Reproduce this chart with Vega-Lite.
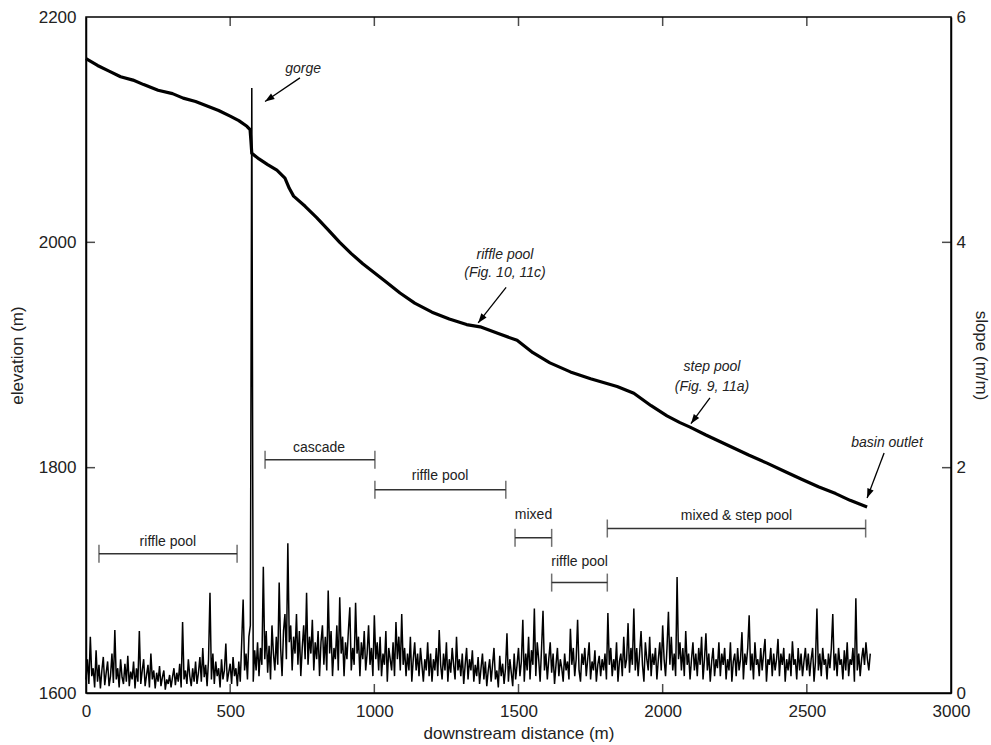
{
  "$schema": "https://vega.github.io/schema/vega-lite/v6.json",
  "width": 865,
  "height": 676,
  "autosize": "none",
  "padding": {"left": 86, "top": 17, "right": 40, "bottom": 52},
  "background": "white",
  "config": {
    "font": "Liberation Sans",
    "view": {"stroke": "#000", "strokeWidth": 1.5},
    "axis": {
      "grid": false,
      "ticks": false,
      "domainColor": "#000",
      "labelColor": "#222",
      "titleColor": "#222",
      "labelFont": "Liberation Sans",
      "titleFont": "Liberation Sans",
      "labelFontSize": 17,
      "titleFontSize": 17,
      "titleFontWeight": "normal",
      "domainWidth": 1.5,
      "labelPadding": 10,
      "format": "d"
    }
  },
  "datasets": {
    "slope": [
{"d":0,"s":0.12},{"d":5,"s":0.3},{"d":10,"s":0.08},{"d":15,"s":0.5},{"d":20,"s":0.15},{"d":25,"s":0.22},{"d":30,"s":0.05},{"d":35,"s":0.38},{"d":40,"s":0.1},{"d":45,"s":0.25},{"d":50,"s":0.04},{"d":55,"s":0.2},{"d":60,"s":0.32},{"d":65,"s":0.07},{"d":70,"s":0.18},{"d":75,"s":0.28},{"d":80,"s":0.06},{"d":85,"s":0.15},{"d":90,"s":0.35},{"d":95,"s":0.09},
{"d":100,"s":0.56},{"d":105,"s":0.12},{"d":110,"s":0.22},{"d":115,"s":0.05},{"d":120,"s":0.3},{"d":125,"s":0.14},{"d":130,"s":0.08},{"d":135,"s":0.26},{"d":140,"s":0.1},{"d":145,"s":0.33},{"d":150,"s":0.06},{"d":155,"s":0.19},{"d":160,"s":0.12},{"d":165,"s":0.28},{"d":170,"s":0.04},{"d":175,"s":0.22},{"d":180,"s":0.1},{"d":185,"s":0.55},{"d":190,"s":0.08},{"d":195,"s":0.2},
{"d":200,"s":0.3},{"d":205,"s":0.06},{"d":210,"s":0.16},{"d":215,"s":0.25},{"d":220,"s":0.05},{"d":225,"s":0.35},{"d":230,"s":0.12},{"d":235,"s":0.2},{"d":240,"s":0.04},{"d":245,"s":0.18},{"d":250,"s":0.1},{"d":255,"s":0.24},{"d":260,"s":0.06},{"d":265,"s":0.14},{"d":270,"s":0.2},{"d":275,"s":0.03},{"d":280,"s":0.12},{"d":285,"s":0.08},{"d":290,"s":0.16},{"d":295,"s":0.05},
{"d":300,"s":0.14},{"d":305,"s":0.22},{"d":310,"s":0.07},{"d":315,"s":0.18},{"d":320,"s":0.1},{"d":325,"s":0.26},{"d":330,"s":0.05},{"d":335,"s":0.63},{"d":340,"s":0.12},{"d":345,"s":0.2},{"d":350,"s":0.08},{"d":355,"s":0.3},{"d":360,"s":0.15},{"d":365,"s":0.06},{"d":370,"s":0.22},{"d":375,"s":0.1},{"d":380,"s":0.28},{"d":385,"s":0.08},{"d":390,"s":0.18},{"d":395,"s":0.32},
{"d":400,"s":0.1},{"d":405,"s":0.4},{"d":410,"s":0.14},{"d":415,"s":0.25},{"d":420,"s":0.06},{"d":425,"s":0.3},{"d":430,"s":0.89},{"d":435,"s":0.12},{"d":440,"s":0.35},{"d":445,"s":0.08},{"d":450,"s":0.28},{"d":455,"s":0.15},{"d":460,"s":0.22},{"d":465,"s":0.05},{"d":470,"s":0.3},{"d":475,"s":0.12},{"d":480,"s":0.2},{"d":485,"s":0.44},{"d":490,"s":0.1},{"d":495,"s":0.18},
{"d":500,"s":0.26},{"d":505,"s":0.08},{"d":510,"s":0.32},{"d":515,"s":0.15},{"d":520,"s":0.22},{"d":525,"s":0.06},{"d":530,"s":0.28},{"d":535,"s":0.1},{"d":540,"s":0.45},{"d":545,"s":0.83},{"d":550,"s":0.2},{"d":555,"s":0.35},{"d":560,"s":0.12},{"d":565,"s":0.5},{"d":570,"s":0.6},{"d":575,"s":5.37},{"d":580,"s":0.1},{"d":585,"s":0.38},{"d":590,"s":0.2},{"d":595,"s":0.45},
{"d":600,"s":0.15},{"d":605,"s":0.4},{"d":610,"s":0.25},{"d":615,"s":1.12},{"d":620,"s":0.3},{"d":625,"s":0.55},{"d":630,"s":0.18},{"d":635,"s":0.42},{"d":640,"s":0.12},{"d":645,"s":0.6},{"d":650,"s":0.35},{"d":655,"s":0.2},{"d":660,"s":0.5},{"d":665,"s":0.25},{"d":670,"s":0.98},{"d":675,"s":0.4},{"d":680,"s":0.15},{"d":685,"s":0.55},{"d":690,"s":0.7},{"d":695,"s":0.3},
{"d":700,"s":1.33},{"d":705,"s":0.45},{"d":710,"s":0.6},{"d":715,"s":0.2},{"d":720,"s":0.5},{"d":725,"s":0.35},{"d":730,"s":0.7},{"d":735,"s":0.25},{"d":740,"s":0.55},{"d":745,"s":0.15},{"d":750,"s":0.4},{"d":755,"s":0.6},{"d":760,"s":0.3},{"d":765,"s":0.89},{"d":770,"s":0.25},{"d":775,"s":0.5},{"d":780,"s":0.35},{"d":785,"s":0.65},{"d":790,"s":0.2},{"d":795,"s":0.45},
{"d":800,"s":0.3},{"d":805,"s":0.55},{"d":810,"s":0.15},{"d":815,"s":0.45},{"d":820,"s":0.6},{"d":825,"s":0.25},{"d":830,"s":0.5},{"d":835,"s":0.2},{"d":840,"s":0.91},{"d":845,"s":0.35},{"d":850,"s":0.55},{"d":855,"s":0.15},{"d":860,"s":0.4},{"d":865,"s":0.3},{"d":870,"s":0.6},{"d":875,"s":0.2},{"d":880,"s":0.85},{"d":885,"s":0.35},{"d":890,"s":0.5},{"d":895,"s":0.15},
{"d":900,"s":0.45},{"d":905,"s":0.3},{"d":910,"s":0.55},{"d":915,"s":0.76},{"d":920,"s":0.2},{"d":925,"s":0.4},{"d":930,"s":0.25},{"d":935,"s":0.8},{"d":940,"s":0.35},{"d":945,"s":0.5},{"d":950,"s":0.15},{"d":955,"s":0.45},{"d":960,"s":0.3},{"d":965,"s":0.55},{"d":970,"s":0.2},{"d":975,"s":0.35},{"d":980,"s":0.6},{"d":985,"s":0.25},{"d":990,"s":0.4},{"d":995,"s":0.15},
{"d":1000,"s":0.69},{"d":1005,"s":0.3},{"d":1010,"s":0.45},{"d":1015,"s":0.2},{"d":1020,"s":0.5},{"d":1025,"s":0.15},{"d":1030,"s":0.35},{"d":1035,"s":0.25},{"d":1040,"s":0.55},{"d":1045,"s":0.1},{"d":1050,"s":0.4},{"d":1055,"s":0.3},{"d":1060,"s":0.2},{"d":1065,"s":0.45},{"d":1070,"s":0.15},{"d":1075,"s":0.63},{"d":1080,"s":0.3},{"d":1085,"s":0.5},{"d":1090,"s":0.2},{"d":1095,"s":0.7},
{"d":1100,"s":0.25},{"d":1105,"s":0.4},{"d":1110,"s":0.15},{"d":1115,"s":0.35},{"d":1120,"s":0.2},{"d":1125,"s":0.5},{"d":1130,"s":0.1},{"d":1135,"s":0.3},{"d":1140,"s":0.45},{"d":1145,"s":0.2},{"d":1150,"s":0.35},{"d":1155,"s":0.15},{"d":1160,"s":0.4},{"d":1165,"s":0.25},{"d":1170,"s":0.1},{"d":1175,"s":0.3},{"d":1180,"s":0.2},{"d":1185,"s":0.45},{"d":1190,"s":0.15},{"d":1195,"s":0.35},
{"d":1200,"s":0.1},{"d":1205,"s":0.3},{"d":1210,"s":0.2},{"d":1215,"s":0.4},{"d":1220,"s":0.15},{"d":1225,"s":0.56},{"d":1230,"s":0.25},{"d":1235,"s":0.12},{"d":1240,"s":0.35},{"d":1245,"s":0.2},{"d":1250,"s":0.45},{"d":1255,"s":0.1},{"d":1260,"s":0.3},{"d":1265,"s":0.18},{"d":1270,"s":0.4},{"d":1275,"s":0.25},{"d":1280,"s":0.12},{"d":1285,"s":0.5},{"d":1290,"s":0.2},{"d":1295,"s":0.3},
{"d":1300,"s":0.15},{"d":1305,"s":0.35},{"d":1310,"s":0.08},{"d":1315,"s":0.25},{"d":1320,"s":0.4},{"d":1325,"s":0.12},{"d":1330,"s":0.3},{"d":1335,"s":0.2},{"d":1340,"s":0.38},{"d":1345,"s":0.1},{"d":1350,"s":0.25},{"d":1355,"s":0.15},{"d":1360,"s":0.32},{"d":1365,"s":0.08},{"d":1370,"s":0.22},{"d":1375,"s":0.35},{"d":1380,"s":0.12},{"d":1385,"s":0.28},{"d":1390,"s":0.06},{"d":1395,"s":0.2},
{"d":1400,"s":0.3},{"d":1405,"s":0.1},{"d":1410,"s":0.25},{"d":1415,"s":0.4},{"d":1420,"s":0.12},{"d":1425,"s":0.2},{"d":1430,"s":0.05},{"d":1435,"s":0.33},{"d":1440,"s":0.15},{"d":1445,"s":0.26},{"d":1450,"s":0.08},{"d":1455,"s":0.22},{"d":1460,"s":0.53},{"d":1465,"s":0.1},{"d":1470,"s":0.3},{"d":1475,"s":0.18},{"d":1480,"s":0.06},{"d":1485,"s":0.35},{"d":1490,"s":0.12},{"d":1495,"s":0.25},
{"d":1500,"s":0.4},{"d":1505,"s":0.15},{"d":1510,"s":0.28},{"d":1515,"s":0.65},{"d":1520,"s":0.1},{"d":1525,"s":0.35},{"d":1530,"s":0.2},{"d":1535,"s":0.5},{"d":1540,"s":0.12},{"d":1545,"s":0.38},{"d":1550,"s":0.25},{"d":1555,"s":0.75},{"d":1560,"s":0.15},{"d":1565,"s":0.45},{"d":1570,"s":0.3},{"d":1575,"s":0.1},{"d":1580,"s":0.4},{"d":1585,"s":0.73},{"d":1590,"s":0.2},{"d":1595,"s":0.35},
{"d":1600,"s":0.12},{"d":1605,"s":0.3},{"d":1610,"s":0.45},{"d":1615,"s":0.18},{"d":1620,"s":0.35},{"d":1625,"s":0.08},{"d":1630,"s":0.25},{"d":1635,"s":0.4},{"d":1640,"s":0.15},{"d":1645,"s":0.3},{"d":1650,"s":0.22},{"d":1655,"s":0.1},{"d":1660,"s":0.35},{"d":1665,"s":0.2},{"d":1670,"s":0.28},{"d":1675,"s":0.12},{"d":1680,"s":0.57},{"d":1685,"s":0.25},{"d":1690,"s":0.4},{"d":1695,"s":0.15},
{"d":1700,"s":0.3},{"d":1705,"s":0.65},{"d":1710,"s":0.2},{"d":1715,"s":0.1},{"d":1720,"s":0.35},{"d":1725,"s":0.25},{"d":1730,"s":0.4},{"d":1735,"s":0.15},{"d":1740,"s":0.3},{"d":1745,"s":0.45},{"d":1750,"s":0.12},{"d":1755,"s":0.28},{"d":1760,"s":0.2},{"d":1765,"s":0.38},{"d":1770,"s":0.1},{"d":1775,"s":0.25},{"d":1780,"s":0.33},{"d":1785,"s":0.15},{"d":1790,"s":0.3},{"d":1795,"s":0.2},
{"d":1800,"s":0.35},{"d":1805,"s":0.12},{"d":1810,"s":0.71},{"d":1815,"s":0.25},{"d":1820,"s":0.4},{"d":1825,"s":0.15},{"d":1830,"s":0.3},{"d":1835,"s":0.2},{"d":1840,"s":0.45},{"d":1845,"s":0.1},{"d":1850,"s":0.28},{"d":1855,"s":0.35},{"d":1860,"s":0.15},{"d":1865,"s":0.5},{"d":1870,"s":0.22},{"d":1875,"s":0.3},{"d":1880,"s":0.62},{"d":1885,"s":0.18},{"d":1890,"s":0.4},{"d":1895,"s":0.25},
{"d":1900,"s":0.75},{"d":1905,"s":0.2},{"d":1910,"s":0.4},{"d":1915,"s":0.15},{"d":1920,"s":0.35},{"d":1925,"s":0.55},{"d":1930,"s":0.25},{"d":1935,"s":0.1},{"d":1940,"s":0.45},{"d":1945,"s":0.3},{"d":1950,"s":0.2},{"d":1955,"s":0.5},{"d":1960,"s":0.15},{"d":1965,"s":0.35},{"d":1970,"s":0.25},{"d":1975,"s":0.4},{"d":1980,"s":0.12},{"d":1985,"s":0.3},{"d":1990,"s":0.45},{"d":1995,"s":0.2},
{"d":2000,"s":0.6},{"d":2005,"s":0.3},{"d":2010,"s":0.15},{"d":2015,"s":0.4},{"d":2020,"s":0.72},{"d":2025,"s":0.25},{"d":2030,"s":0.5},{"d":2035,"s":0.2},{"d":2040,"s":0.35},{"d":2045,"s":0.15},{"d":2050,"s":1.03},{"d":2055,"s":0.3},{"d":2060,"s":0.45},{"d":2065,"s":0.2},{"d":2070,"s":0.4},{"d":2075,"s":0.15},{"d":2080,"s":0.55},{"d":2085,"s":0.25},{"d":2090,"s":0.35},{"d":2095,"s":0.12},
{"d":2100,"s":0.3},{"d":2105,"s":0.45},{"d":2110,"s":0.2},{"d":2115,"s":0.35},{"d":2120,"s":0.15},{"d":2125,"s":0.4},{"d":2130,"s":0.25},{"d":2135,"s":0.5},{"d":2140,"s":0.12},{"d":2145,"s":0.3},{"d":2150,"s":0.53},{"d":2155,"s":0.2},{"d":2160,"s":0.35},{"d":2165,"s":0.1},{"d":2170,"s":0.28},{"d":2175,"s":0.4},{"d":2180,"s":0.15},{"d":2185,"s":0.3},{"d":2190,"s":0.22},{"d":2195,"s":0.45},
{"d":2200,"s":0.15},{"d":2205,"s":0.35},{"d":2210,"s":0.25},{"d":2215,"s":0.4},{"d":2220,"s":0.12},{"d":2225,"s":0.3},{"d":2230,"s":0.2},{"d":2235,"s":0.45},{"d":2240,"s":0.1},{"d":2245,"s":0.28},{"d":2250,"s":0.35},{"d":2255,"s":0.15},{"d":2260,"s":0.4},{"d":2265,"s":0.2},{"d":2270,"s":0.3},{"d":2275,"s":0.54},{"d":2280,"s":0.12},{"d":2285,"s":0.35},{"d":2290,"s":0.25},{"d":2295,"s":0.4},
{"d":2300,"s":0.69},{"d":2305,"s":0.2},{"d":2310,"s":0.35},{"d":2315,"s":0.12},{"d":2320,"s":0.45},{"d":2325,"s":0.25},{"d":2330,"s":0.3},{"d":2335,"s":0.15},{"d":2340,"s":0.4},{"d":2345,"s":0.2},{"d":2350,"s":0.35},{"d":2355,"s":0.48},{"d":2360,"s":0.1},{"d":2365,"s":0.3},{"d":2370,"s":0.25},{"d":2375,"s":0.4},{"d":2380,"s":0.15},{"d":2385,"s":0.35},{"d":2390,"s":0.2},{"d":2395,"s":0.3},
{"d":2400,"s":0.48},{"d":2405,"s":0.15},{"d":2410,"s":0.35},{"d":2415,"s":0.25},{"d":2420,"s":0.4},{"d":2425,"s":0.1},{"d":2430,"s":0.3},{"d":2435,"s":0.2},{"d":2440,"s":0.35},{"d":2445,"s":0.15},{"d":2450,"s":0.46},{"d":2455,"s":0.25},{"d":2460,"s":0.3},{"d":2465,"s":0.12},{"d":2470,"s":0.4},{"d":2475,"s":0.2},{"d":2480,"s":0.35},{"d":2485,"s":0.15},{"d":2490,"s":0.28},{"d":2495,"s":0.4},
{"d":2500,"s":0.2},{"d":2505,"s":0.35},{"d":2510,"s":0.15},{"d":2515,"s":0.3},{"d":2520,"s":0.4},{"d":2525,"s":0.1},{"d":2530,"s":0.28},{"d":2535,"s":0.75},{"d":2540,"s":0.2},{"d":2545,"s":0.35},{"d":2550,"s":0.15},{"d":2555,"s":0.4},{"d":2560,"s":0.25},{"d":2565,"s":0.3},{"d":2570,"s":0.12},{"d":2575,"s":0.35},{"d":2580,"s":0.22},{"d":2585,"s":0.4},{"d":2590,"s":0.7},{"d":2595,"s":0.2},
{"d":2600,"s":0.35},{"d":2605,"s":0.15},{"d":2610,"s":0.4},{"d":2615,"s":0.25},{"d":2620,"s":0.3},{"d":2625,"s":0.12},{"d":2630,"s":0.38},{"d":2635,"s":0.2},{"d":2640,"s":0.45},{"d":2645,"s":0.15},{"d":2650,"s":0.3},{"d":2655,"s":0.25},{"d":2660,"s":0.4},{"d":2665,"s":0.1},{"d":2670,"s":0.84},{"d":2675,"s":0.2},{"d":2680,"s":0.35},{"d":2685,"s":0.15},{"d":2690,"s":0.3},{"d":2695,"s":0.4},
{"d":2700,"s":0.25},{"d":2705,"s":0.45},{"d":2710,"s":0.3},{"d":2715,"s":0.2},{"d":2720,"s":0.35}
    ],
    "elev": [
{"d":0,"e":2163},{"d":40,"e":2157},{"d":80,"e":2152},{"d":120,"e":2147},{"d":163,"e":2144},{"d":200,"e":2140},{"d":250,"e":2135},{"d":300,"e":2132},{"d":337,"e":2128},{"d":380,"e":2125},{"d":420,"e":2121},{"d":460,"e":2117},{"d":500,"e":2112},{"d":530,"e":2108},{"d":558,"e":2103},{"d":569,"e":2100},{"d":572,"e":2090},{"d":575,"e":2079},{"d":600,"e":2074},{"d":630,"e":2069},{"d":662,"e":2064},{"d":690,"e":2057},{"d":705,"e":2048},{"d":720,"e":2041},{"d":760,"e":2032},{"d":800,"e":2022},{"d":840,"e":2011},{"d":880,"e":2000},{"d":920,"e":1990},{"d":960,"e":1981},{"d":1000,"e":1973},{"d":1040,"e":1965},{"d":1089,"e":1955},{"d":1140,"e":1946},{"d":1200,"e":1938},{"d":1260,"e":1932},{"d":1320,"e":1927},{"d":1367,"e":1925},{"d":1430,"e":1919},{"d":1495,"e":1913},{"d":1550,"e":1902},{"d":1609,"e":1893},{"d":1680,"e":1885},{"d":1750,"e":1879},{"d":1842,"e":1872},{"d":1900,"e":1866},{"d":1960,"e":1855},{"d":2015,"e":1846},{"d":2060,"e":1840},{"d":2095,"e":1836},{"d":2150,"e":1829},{"d":2200,"e":1823},{"d":2250,"e":1817},{"d":2300,"e":1811},{"d":2362,"e":1804},{"d":2420,"e":1797},{"d":2480,"e":1790},{"d":2540,"e":1783},{"d":2600,"e":1777},{"d":2650,"e":1771},{"d":2709,"e":1765}
    ],
    "segments": [
      {"s":45,"t":524,"e":1723.5,"lx":284,"le":1734.4,"lab":"riffle pool"},
      {"s":621,"t":1002,"e":1807,"lx":808,"le":1817.6,"lab":"cascade"},
      {"s":1002,"t":1456,"e":1780.3,"lx":1228,"le":1793,"lab":"riffle pool"},
      {"s":1488,"t":1615,"e":1737.7,"lx":1552,"le":1758,"lab":"mixed"},
      {"s":1615,"t":1808,"e":1698,"lx":1712,"le":1716.7,"lab":"riffle pool"},
      {"s":1808,"t":2704,"e":1746,"lx":2256,"le":1757.5,"lab":"mixed & step pool"}
    ],
    "notes": [
      {"d":753,"e":2154,"t":"gorge"},
      {"d":1453,"e":1989,"t":"riffle pool"},
      {"d":1453,"e":1973,"t":"(Fig. 10, 11c)"},
      {"d":2171,"e":1889.5,"t":"step pool"},
      {"d":2171,"e":1871.7,"t":"(Fig. 9, 11a)"},
      {"d":2778,"e":1822,"t":"basin outlet"}
    ],
    "arrows": [
      {"d1":742,"e1":2146,"d2":621,"e2":2125},
      {"d1":1457,"e1":1960,"d2":1360,"e2":1928.5},
      {"d1":2164,"e1":1862,"d2":2098,"e2":1839},
      {"d1":2768,"e1":1813,"d2":2709,"e2":1773}
    ],
    "xticks": [
      {"d":500,"e":2200},{"d":1000,"e":2200},{"d":1500,"e":2200},{"d":2000,"e":2200},{"d":2500,"e":2200},
      {"d":500,"e":1600},{"d":1000,"e":1600},{"d":1500,"e":1600},{"d":2000,"e":1600},{"d":2500,"e":1600}
    ],
    "yticks": [
      {"d":0,"e":1800},{"d":0,"e":2000},{"d":3000,"e":1800},{"d":3000,"e":2000}
    ]
  },
  "resolve": {"scale": {"y": "independent"}, "axis": {"x": "independent"}},
  "layer": [
    {
      "layer": [
        {
          "data": {"name": "elev"},
          "mark": {"type": "line", "color": "#000", "strokeWidth": 3.2, "strokeJoin": "round"},
          "encoding": {
            "x": {"field": "d", "type": "quantitative", "scale": {"domain": [0, 3000], "nice": false},
              "axis": {"values": [0, 500, 1000, 1500, 2000, 2500, 3000], "title": "downstream distance (m)", "titlePadding": 6, "labelFlush": false}},
            "y": {"field": "e", "type": "quantitative", "scale": {"domain": [1600, 2200], "nice": false, "zero": false},
              "axis": {"values": [1600, 1800, 2000, 2200], "title": "elevation (m)", "titlePadding": 12}}
          }
        },
        {
          "data": {"name": "xticks"},
          "mark": {"type": "tick", "orient": "vertical", "color": "#000", "thickness": 1.5, "size": 18, "clip": true},
          "encoding": {
            "x": {"field": "d", "type": "quantitative"},
            "y": {"field": "e", "type": "quantitative"}
          }
        },
        {
          "data": {"name": "yticks"},
          "mark": {"type": "tick", "orient": "horizontal", "color": "#000", "thickness": 1.5, "size": 18, "clip": true},
          "encoding": {
            "x": {"field": "d", "type": "quantitative"},
            "y": {"field": "e", "type": "quantitative"}
          }
        },
        {
          "data": {"name": "segments"},
          "mark": {"type": "rule", "color": "#333", "strokeWidth": 1.5},
          "encoding": {
            "x": {"field": "s", "type": "quantitative"},
            "x2": {"field": "t"},
            "y": {"field": "e", "type": "quantitative"}
          }
        },
        {
          "data": {"name": "segments"},
          "mark": {"type": "tick", "orient": "vertical", "color": "#333", "thickness": 1.5, "size": 18},
          "encoding": {
            "x": {"field": "s", "type": "quantitative"},
            "y": {"field": "e", "type": "quantitative"}
          }
        },
        {
          "data": {"name": "segments"},
          "mark": {"type": "tick", "orient": "vertical", "color": "#333", "thickness": 1.5, "size": 18},
          "encoding": {
            "x": {"field": "t", "type": "quantitative"},
            "y": {"field": "e", "type": "quantitative"}
          }
        },
        {
          "data": {"name": "segments"},
          "mark": {"type": "text", "font": "Liberation Sans", "fontSize": 14, "color": "#222", "baseline": "middle", "align": "center"},
          "encoding": {
            "x": {"field": "lx", "type": "quantitative"},
            "y": {"field": "le", "type": "quantitative"},
            "text": {"field": "lab"}
          }
        },
        {
          "data": {"name": "notes"},
          "mark": {"type": "text", "font": "Liberation Sans", "fontSize": 14, "fontStyle": "italic", "color": "#222", "baseline": "middle", "align": "center"},
          "encoding": {
            "x": {"field": "d", "type": "quantitative"},
            "y": {"field": "e", "type": "quantitative"},
            "text": {"field": "t"}
          }
        },
        {
          "data": {"name": "arrows"},
          "mark": {"type": "rule", "color": "#000", "strokeWidth": 1.3},
          "encoding": {
            "x": {"field": "d1", "type": "quantitative"},
            "y": {"field": "e1", "type": "quantitative"},
            "x2": {"field": "d2"},
            "y2": {"field": "e2"}
          }
        },
        {
          "data": {"values": [{"d": 621, "e": 2125}]},
          "mark": {"type": "point", "shape": "M0,0L-0.7,2L0.7,2Z", "filled": true, "color": "#000", "opacity": 1, "size": 90, "angle": 235.6},
          "encoding": {"x": {"field": "d", "type": "quantitative"}, "y": {"field": "e", "type": "quantitative"}}
        },
        {
          "data": {"values": [{"d": 1360, "e": 1928.5}]},
          "mark": {"type": "point", "shape": "M0,0L-0.7,2L0.7,2Z", "filled": true, "color": "#000", "opacity": 1, "size": 90, "angle": 217.9},
          "encoding": {"x": {"field": "d", "type": "quantitative"}, "y": {"field": "e", "type": "quantitative"}}
        },
        {
          "data": {"values": [{"d": 2098, "e": 1839}]},
          "mark": {"type": "point", "shape": "M0,0L-0.7,2L0.7,2Z", "filled": true, "color": "#000", "opacity": 1, "size": 90, "angle": 216},
          "encoding": {"x": {"field": "d", "type": "quantitative"}, "y": {"field": "e", "type": "quantitative"}}
        },
        {
          "data": {"values": [{"d": 2709, "e": 1773}]},
          "mark": {"type": "point", "shape": "M0,0L-0.7,2L0.7,2Z", "filled": true, "color": "#000", "opacity": 1, "size": 90, "angle": 201},
          "encoding": {"x": {"field": "d", "type": "quantitative"}, "y": {"field": "e", "type": "quantitative"}}
        }
      ]
    },
    {
      "data": {"name": "slope"},
      "mark": {"type": "line", "color": "#000", "strokeWidth": 1.5},
      "encoding": {
        "x": {"field": "d", "type": "quantitative", "scale": {"domain": [0, 3000], "nice": false},
          "axis": null},
        "y": {"field": "s", "type": "quantitative", "scale": {"domain": [0, 6], "nice": false},
          "axis": {"orient": "right", "values": [0, 2, 4, 6], "title": "slope (m/m)", "titlePadding": 6, "labelPadding": 5, "labelFlush": false}}
      }
    }
  ]
}
